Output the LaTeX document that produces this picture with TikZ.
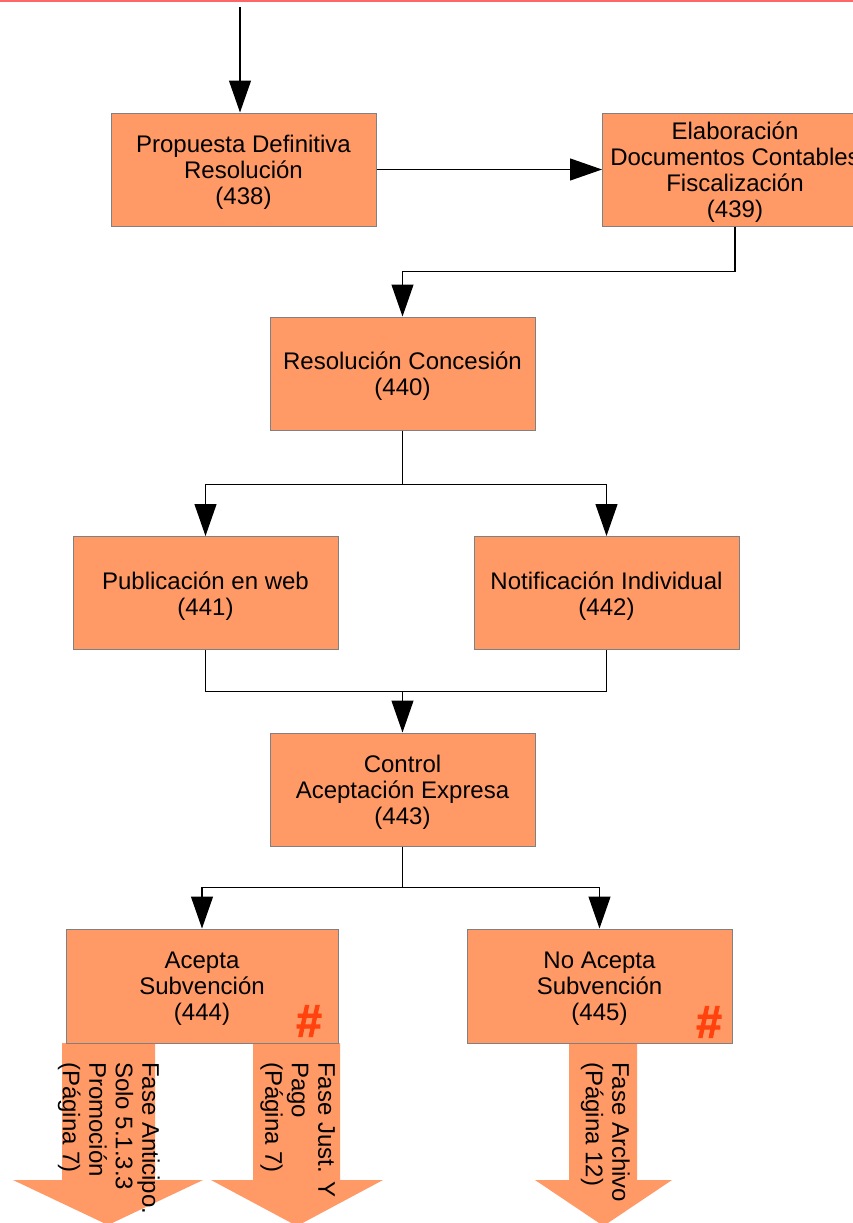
\documentclass[tikz,border=0pt]{standalone}
\usepackage{fontspec}
\setmainfont{Liberation Sans}
\newfontfamily\hashfont[FakeBold=2]{Liberation Sans}
\usetikzlibrary{arrows.meta}
\definecolor{boxfill}{HTML}{FF9966}
\definecolor{boxedge}{HTML}{808080}
\definecolor{hashred}{HTML}{FF420E}
\definecolor{topline}{HTML}{FF6666}
\begin{document}
\begin{tikzpicture}[x=1pt,y=-1pt,
  procbox/.style={draw=boxedge, line width=1pt, fill=boxfill, minimum width=265pt, minimum height=113pt, inner sep=0pt},
  boxtext/.style={inner sep=0pt, align=center, font=\fontsize{24}{26}\selectfont},
  conn/.style={line width=1.2pt, -{Triangle[length=32pt,width=22pt]}},
  plainline/.style={line width=1pt},
  hashmark/.style={text=hashred, font=\hashfont\bfseries\fontsize{46}{46}\selectfont, inner sep=0pt},
  phasetext/.style={rotate=-90, anchor=north west, align=left, inner sep=0pt, font=\fontsize{24}{26.5}\selectfont},
  blockarrow/.style={fill=boxfill}
]
\useasboundingbox (0,0) rectangle (853,1223);
\draw[topline, line width=1.5pt] (0,1) -- (853,1);

% block arrows (drawn first)
\fill[blockarrow] (62,1043) -- (155,1043) -- (155,1180) -- (203,1180) -- (108,1225) -- (13,1180) -- (62,1180) -- cycle;
\fill[blockarrow] (253,1043) -- (340,1043) -- (340,1180) -- (383,1180) -- (297,1226) -- (211,1180) -- (253,1180) -- cycle;
\fill[blockarrow] (569,1043) -- (637,1043) -- (637,1180) -- (672,1180) -- (603.5,1226) -- (535,1180) -- (569,1180) -- cycle;

% boxes
\node[procbox] (b438) at (243.5,169.5) {};
\node[procbox] (b439) at (735,169.5) {};
\node[procbox] (b440) at (402.5,373.5) {};
\node[procbox] (b441) at (205.5,593) {};
\node[procbox] (b442) at (606.5,593) {};
\node[procbox] (b443) at (402.5,789.5) {};
\node[procbox, minimum width=272pt, minimum height=114pt] (b444) at (202,986) {};
\node[procbox, minimum height=114pt] (b445) at (599.5,986) {};

% box texts
\node[boxtext] (t438) at ([yshift=-3pt]b438.center) {Propuesta Definitiva\\Resolución\\(438)};
\node[boxtext] (t439) at ([yshift=-3pt]b439.center) {Elaboración\\Documentos Contables\\Fiscalización\\(439)};
\node[boxtext] (t440) at ([yshift=-3pt]b440.center) {Resolución Concesión\\(440)};
\node[boxtext] (t441) at ([yshift=-3pt]b441.center) {Publicación en web\\(441)};
\node[boxtext] (t442) at ([yshift=-3pt]b442.center) {Notificación Individual\\(442)};
\node[boxtext] (t443) at ([yshift=-3pt]b443.center) {Control\\Aceptación Expresa\\(443)};
\node[boxtext] (t444) at ([yshift=-3pt]b444.center) {Acepta\\Subvención\\(444)};
\node[boxtext] (t445) at ([yshift=-3pt]b445.center) {No Acepta\\Subvención\\(445)};

\node[hashmark] (h1) at (309,1021) {\#};
\node[hashmark] (h2) at (709,1022) {\#};

% connectors
\coordinate (start) at (240,7);
\draw[conn] (start) -- (start |- b438.north);
\draw[conn] (b438.east) -- (b439.west);
\draw[conn] (b439.south) -- ++(0,45) -| (b440.north);
\draw[plainline] (b440.south) -- ++(0,54) coordinate (s1);
\draw[conn] (s1) -| (b441.north);
\draw[conn] (s1) -| (b442.north);
\draw[plainline] (b441.south) -- ++(0,41) -| (b442.south);
\coordinate (m1) at (b443.north |- 0,691);
\draw[conn] (m1) -- (b443.north);
\draw[plainline] (b443.south) -- ++(0,41) coordinate (s2);
\draw[conn] (s2) -| (b444.north);
\draw[conn] (s2) -| (b445.north);

% phase texts
\node[phasetext] (p1) at (160,1062) {Fase Anticipo.\\Solo 5.1.3.3\\Promoción\\(Página 7)};
\node[phasetext] (p2) at (335,1062) {Fase Just. Y\\Pago\\(Página 7)};
\node[phasetext] (p3) at (630,1062) {Fase Archivo\\(Página 12)};
\end{tikzpicture}
\end{document}
